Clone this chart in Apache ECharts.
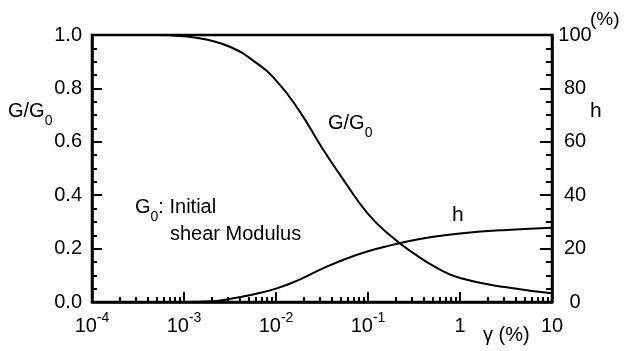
<!DOCTYPE html>
<html>
<head>
<meta charset="utf-8">
<script src="https://cdn.jsdelivr.net/npm/echarts@6/dist/echarts.min.js"></script>
<style>
  html, body { margin: 0; padding: 0; background: #fff; }
  #chart { width: 626px; height: 351px; }
</style>
</head>
<body>
<div id="chart"></div>
<script>
// shear strain gamma (%) and modulus ratio G/G0
const gammaG = [1e-4, 5e-4, 1e-3, 1.8e-3, 3.2e-3, 5.6e-3, 1e-2, 1.8e-2, 3.2e-2, 5.6e-2, 0.1, 0.18, 0.32, 0.56, 1, 3.2, 10];
const gRatio = [1.0, 1.0, 0.995, 0.982, 0.955, 0.905, 0.83, 0.715, 0.575, 0.45, 0.33, 0.245, 0.18, 0.128, 0.09, 0.055, 0.033];

// shear strain gamma (%) and damping ratio h (%)
const gammaH = [1e-4, 1e-3, 2e-3, 3.2e-3, 5.6e-3, 1e-2, 1.8e-2, 3.2e-2, 5.6e-2, 0.1, 0.18, 0.32, 0.56, 1, 3.2, 10];
const damping = [0, 0, 0.3, 1.2, 2.8, 5, 8.4, 12.5, 16, 19, 21.3, 23.2, 24.6, 25.7, 27, 27.8];

// x tick labels: base and exponent
const xBase = ['10', '10', '10', '10', '1', '10'];
const xExp = ['-4', '-3', '-2', '-1', '', ''];

const FONT = '"Liberation Sans", Arial, sans-serif';

const chart = echarts.init(document.getElementById('chart'));

const gData = gammaG.map((g, i) => [g, gRatio[i]]);
const hData = gammaH.map((g, i) => [g, damping[i]]);

const subText = {
  a: { fontSize: 20, fontFamily: FONT, fill: '#000', lineHeight: 27, verticalAlign: 'top' },
  s: { fontSize: 14, fontFamily: FONT, fill: '#000', lineHeight: 27, verticalAlign: 'bottom' }
};

const option = {
  backgroundColor: '#fff',
  animation: false,
  textStyle: { fontFamily: FONT, color: '#000' },
  grid: {
    left: 92, right: 74, top: 35, bottom: 49,
    show: true,
    borderColor: '#000',
    borderWidth: 2.5
  },
  xAxis: {
    type: 'log',
    logBase: 10,
    min: 1e-4,
    max: 10,
    axisLine: { lineStyle: { color: '#000', width: 2.5 } },
    axisTick: { inside: true, length: 10, lineStyle: { color: '#000', width: 2 } },
    minorTick: { show: true, splitNumber: 9, length: 5, lineStyle: { color: '#000', width: 2 } },
    splitLine: { show: false },
    axisLabel: {
      margin: 9,
      formatter: function (v) {
        const i = Math.round(Math.log10(v)) + 4;
        if (xExp[i]) return '{b|' + xBase[i] + '}{s|' + xExp[i] + '}';
        return '{b|' + xBase[i] + '}';
      },
      rich: {
        b: { fontSize: 20, fontFamily: FONT, color: '#000', lineHeight: 25, verticalAlign: 'bottom' },
        s: { fontSize: 14, fontFamily: FONT, color: '#000', lineHeight: 25, verticalAlign: 'top' }
      }
    }
  },
  yAxis: [
    {
      type: 'value',
      min: 0, max: 1, interval: 0.2,
      axisLine: { show: true, lineStyle: { color: '#000', width: 2.5 } },
      axisTick: { show: true, inside: true, length: 10, lineStyle: { color: '#000', width: 2 } },
      minorTick: { show: true, splitNumber: 4, length: 5, lineStyle: { color: '#000', width: 2 } },
      splitLine: { show: false },
      axisLabel: {
        margin: 10,
        fontSize: 20,
        color: '#000',
        fontFamily: FONT,
        formatter: v => v.toFixed(1)
      }
    },
    {
      type: 'value',
      position: 'right',
      min: 0, max: 100, interval: 20,
      axisLine: { show: true, lineStyle: { color: '#000', width: 2.5 } },
      axisTick: { show: true, inside: true, length: 12, lineStyle: { color: '#000', width: 2 } },
      minorTick: { show: true, splitNumber: 4, length: 6, lineStyle: { color: '#000', width: 2 } },
      splitLine: { show: false },
      axisLabel: {
        margin: 23,
        align: 'center',
        fontSize: 20,
        color: '#000',
        fontFamily: FONT
      }
    }
  ],
  series: [
    {
      name: 'G/G0',
      type: 'line',
      data: gData,
      smooth: 0.5,
      symbol: 'none',
      lineStyle: { color: '#000', width: 2 }
    },
    {
      name: 'h',
      type: 'line',
      yAxisIndex: 1,
      data: hData,
      smooth: 0.5,
      symbol: 'none',
      lineStyle: { color: '#000', width: 2 }
    }
  ],
  graphic: [
    {
      type: 'text', left: 8, top: 101,
      style: { text: '{a|G/G}{s|0}', rich: subText }
    },
    {
      type: 'text', left: 590, top: 10,
      style: { text: '(%)', fontSize: 19, fontFamily: FONT, fill: '#000' }
    },
    {
      type: 'text', left: 590, top: 101,
      style: { text: 'h', fontSize: 21, fontFamily: FONT, fill: '#000' }
    },
    {
      type: 'text', left: 328, top: 113,
      style: { text: '{a|G/G}{s|0}', rich: subText }
    },
    {
      type: 'text', left: 452, top: 205,
      style: { text: 'h', fontSize: 21, fontFamily: FONT, fill: '#000' }
    },
    {
      type: 'text', left: 135, top: 197,
      style: { text: '{a|G}{s|0}{a|: Initial}', rich: subText }
    },
    {
      type: 'text', left: 170, top: 224,
      style: { text: 'shear Modulus', fontSize: 20, fontFamily: FONT, fill: '#000' }
    },
    {
      type: 'text', left: 483, top: 325,
      style: { text: 'γ (%)', fontSize: 20, fontFamily: FONT, fill: '#000' }
    }
  ]
};

chart.setOption(option);
</script>
</body>
</html>
